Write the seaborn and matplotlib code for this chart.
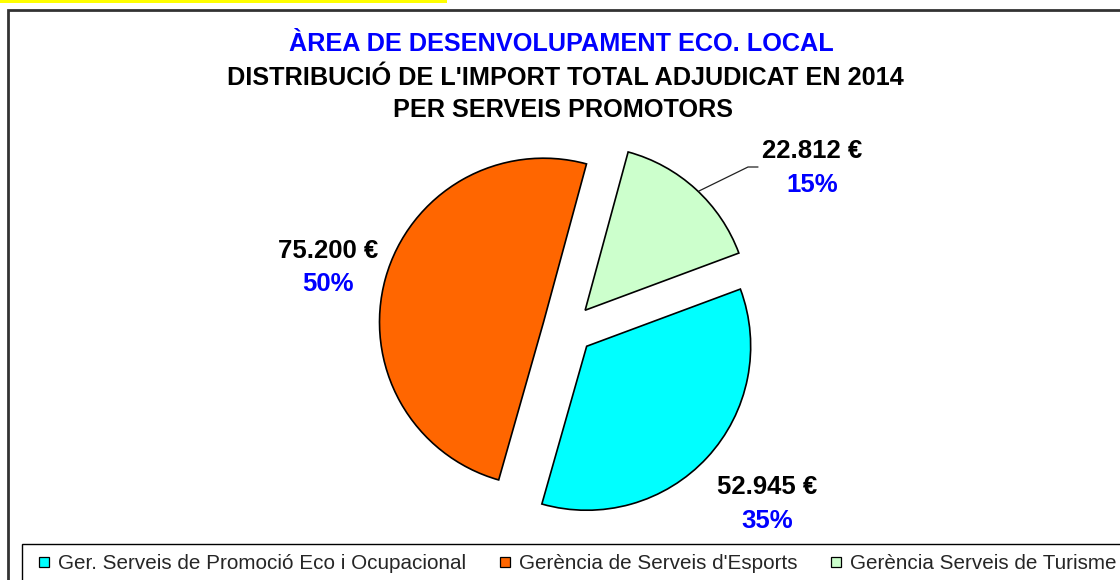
import matplotlib
matplotlib.use("Agg")
import matplotlib.pyplot as plt
import seaborn as sns
from matplotlib.lines import Line2D
from matplotlib.patches import Rectangle

# Data
services = ["Ger. Serveis de Promoció Eco i Ocupacional",
            "Gerència de Serveis d'Esports",
            "Gerència Serveis de Turisme"]
amounts = [52945, 75200, 22812]
colors = ["#00FFFF", "#FF6600", "#CCFFCC"]

title_area = "ÀREA DE DESENVOLUPAMENT ECO. LOCAL"
title_main = "DISTRIBUCIÓ DE L'IMPORT TOTAL ADJUDICAT EN 2014\nPER SERVEIS PROMOTORS"

sns.set_style("white")
plt.rcParams['font.family'] = ['Liberation Sans', 'DejaVu Sans']

W, H = 1120, 580
fig = plt.figure(figsize=(W / 100, H / 100), dpi=100)

# pie geometry in pixels (1 data unit = pie radius)
cx, cy, r = 568, 329, 164
ax = fig.add_axes([0, 0, 1, 1])
ax.pie(amounts, colors=colors, startangle=20.4, counterclock=False,
       explode=[0.155] * 3,
       wedgeprops=dict(edgecolor="black", linewidth=1.2))
ax.set_xlim(-cx / r, (W - cx) / r)
ax.set_ylim(-(H - cy) / r, cy / r)
ax.set_aspect("equal")
ax.set_axis_off()


def fx(x):
    return x / W


def fy(y):
    return 1 - y / H


# titles
fig.text(fx(561), fy(51), title_area, ha="center", va="baseline",
         fontsize=18.2, fontweight="bold", color="#0000FF")
fig.text(fx(565), fy(85), title_main.split("\n")[0], ha="center", va="baseline",
         fontsize=18.2, fontweight="bold", color="black")
fig.text(fx(563), fy(117), title_main.split("\n")[1], ha="center", va="baseline",
         fontsize=18.2, fontweight="bold", color="black")

# data labels
total = sum(amounts)
label_pos = [(767, 494, 528), (328, 258, 291), (812, 158, 192)]
for amt, (lx, y1, y2) in zip(amounts, label_pos):
    txt = f"{amt:,}".replace(",", ".") + " €"
    fig.text(fx(lx), fy(y1), txt, ha="center", va="baseline",
             fontsize=18.5, fontweight="bold", color="black")
    fig.text(fx(lx), fy(y2), f"{round(amt / total * 100)}%", ha="center",
             va="baseline", fontsize=18.5, fontweight="bold", color="#0000FF")

# leader line for the small slice
fig.add_artist(Line2D([fx(699), fx(748), fx(758)], [fy(191), fy(167), fy(167)],
                      color="#222222", linewidth=0.9, transform=fig.transFigure))

# legend
handles = [Line2D([], [], linestyle="none", marker="s", markersize=6.5,
                  markerfacecolor=c, markeredgecolor="black", markeredgewidth=0.9)
           for c in colors]
fig.legend(handles, services, loc="upper left", ncol=3,
           bbox_to_anchor=(fx(22), fy(544)), bbox_transform=fig.transFigure,
           borderaxespad=0, borderpad=0.5, handlelength=1.1, handletextpad=0.15,
           columnspacing=1.3, fontsize=14.9, frameon=True, fancybox=False,
           edgecolor="black", framealpha=1)
leg = fig.legends[0]
leg.get_frame().set_linewidth(1.0)

# chart frame and yellow strip
fig.add_artist(Rectangle((fx(8), -0.1), 1.2, fy(10) + 0.1, fill=False,
                         edgecolor="#333333", linewidth=2, transform=fig.transFigure))
fig.add_artist(Rectangle((0, fy(3)), fx(447), 3 / H, facecolor="#FFFF00",
                         edgecolor="none", transform=fig.transFigure))

fig.savefig("out.png", dpi=100)
